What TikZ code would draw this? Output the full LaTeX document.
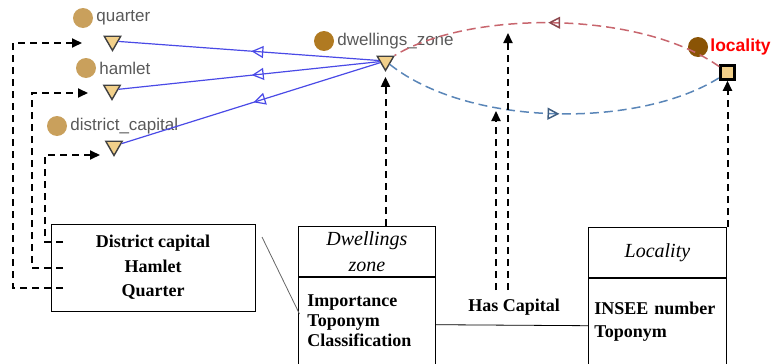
\documentclass[tikz,border=0pt]{standalone}
\usepackage{fontspec}
\setmainfont{Liberation Serif}
\setsansfont{Liberation Sans}
\usetikzlibrary{arrows.meta,shapes.geometric,decorations.markings,positioning}
\definecolor{tanfill}{HTML}{F2D08A}
\definecolor{dotlight}{HTML}{C9A05C}
\definecolor{dotmid}{HTML}{B07A22}
\definecolor{dotdark}{HTML}{8A5406}
\definecolor{isablue}{HTML}{4A4AE6}
\definecolor{relred}{HTML}{C8666E}
\definecolor{relblue}{HTML}{5A86B8}
\begin{document}
\begin{tikzpicture}[x=1pt,y=-1pt,
  tri/.style={regular polygon,regular polygon sides=3,shape border rotate=180,
    draw=black!75,fill=tanfill,line width=1.4pt,minimum size=19pt,inner sep=0pt},
  dot/.style={circle,fill=#1,minimum size=20pt,inner sep=0pt},
  lbl/.style={font=\sffamily\fontsize{17}{20}\selectfont,text=black!65,inner sep=1pt,anchor=west},
  isa/.style={isablue,line width=1.2pt,postaction={decorate},
    decoration={markings,mark=at position 0.49 with {\arrow{Triangle[open,length=12pt,width=12pt]}}}},
  rel/.style 2 args={dash pattern=on 9pt off 5pt,line width=1.5pt,postaction={decorate},
    decoration={markings,mark=at position #2 with {\arrow[solid,#1]{Triangle[open,length=12pt,width=12pt]}}}},
  dep/.style={dash pattern=on 7pt off 5pt,line width=2pt,-{Triangle[length=10pt,width=9pt]}},
  hdr/.style={draw,line width=0.8pt,minimum width=137pt,minimum height=50pt,align=center,
    font=\itshape\fontsize{20}{26}\selectfont},
  body/.style={draw,line width=0.8pt,text width=125pt,inner xsep=6pt,minimum height=87pt,align=left}]
\useasboundingbox (0,0) rectangle (771,364);
% ontology part
\node[tri] (q) at (112.5,41) {};
\node[tri] (h) at (112,90) {};
\node[tri] (d) at (114,146) {};
\node[tri] (dz) at (385.5,61) {};
\node[draw=black,line width=2.5pt,fill=tanfill,minimum size=14pt,inner sep=0pt] (loc) at (727.5,72.5) {};
\node[dot=dotlight] (qdot) at (83,18) {};
\node[lbl,right=2pt of qdot] {quarter};
\node[dot=dotlight] (hdot) at (86,68) {};
\node[lbl,right=2pt of hdot] {hamlet};
\node[dot=dotlight] (ddot) at (57,126) {};
\node[lbl,right=2pt of ddot] {district\_capital};
\node[dot=dotmid] (dzdot) at (324,41) {};
\node[lbl,right=2pt of dzdot] {dwellings\_zone};
\node[dot=dotdark] (locdot) at (698,47) {};
\node[lbl,right=1pt of locdot,text=red,font=\sffamily\bfseries\fontsize{17.5}{20}\selectfont] {locality};
\draw[isa] (dz) -- (q);
\draw[isa] (dz) -- (h);
\draw[isa] (dz) -- (d);
\draw[rel={relred!70!black}{0.53},relred] (loc) .. controls (640,10) and (470,10) .. (dz);
\draw[rel={relblue!70!black}{0.52},relblue] (dz) .. controls (470,128) and (640,128) .. (loc);
% uml part
\node[draw,line width=1pt,minimum width=204pt,minimum height=87pt,align=center,
  font=\bfseries\fontsize{18}{24.5}\selectfont] (lb) at (153,267.5) {District capital\\Hamlet\\Quarter};
\node[hdr,anchor=north west] (dzh) at (298,226) {Dwellings\\zone};
\node[body,text width=119pt,inner xsep=9pt,below=0pt of dzh,font=\bfseries\fontsize{18}{20}\selectfont] (dzb) {Importance\\Toponym\\Classification};
\node[hdr,minimum width=138pt,anchor=north west] (loch) at (588,227) {Locality};
\node[body,text width=126pt,below=0pt of loch,font=\bfseries\fontsize{18}{23}\selectfont] (locb) {INSEE number\\Toponym};
\node[font=\bfseries\fontsize{18}{20}\selectfont] (hc) at (514,307) {Has Capital};
\draw[line width=0.8pt] ([yshift=-4pt]dzb.east) -- ([yshift=-4pt]locb.west);
\coordinate (lbc) at (262,237);
\coordinate (dzl) at (299.5,314);
\draw[black!60,line width=0.8pt] (lbc) -- (dzl);
% dashed links
\coordinate (din) at (63,242);
\coordinate (hin) at (63,268);
\coordinate (qin) at (63,288);
\draw[dep] (din) -- (45,242) -- (45,155) -- (100,155);
\draw[dep] (hin) -- (32,268) -- (32,93) -- (88,93);
\draw[dep] (qin) -- (13,288) -- (13,43) -- (82,43);
\draw[dep,shorten >=5pt] (dz |- dzh.north) -- (dz.south);
\coordinate (hc1) at (496,290);
\coordinate (hc2) at (508,290);
\coordinate (rel1) at (496,111);
\coordinate (rel2) at (508,33);
\draw[dep] (hc1) -- (rel1);
\draw[dep] (hc2) -- (rel2);
\draw[dep] (loc |- loch.north) -- (loc.south);
\end{tikzpicture}
\end{document}
